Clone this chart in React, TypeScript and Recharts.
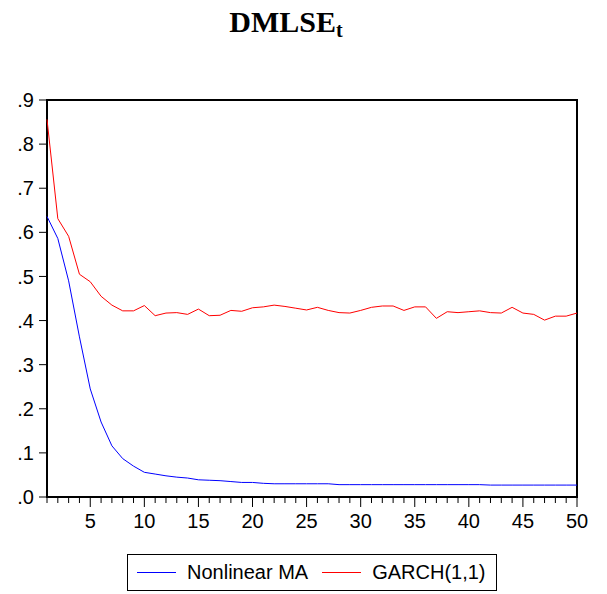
import React from 'react';
import { LineChart, Line, XAxis, YAxis, ReferenceArea } from 'recharts';

// periods 1..50
const periods = [
  1, 2, 3, 4, 5, 6, 7, 8, 9, 10, 11, 12, 13, 14, 15, 16, 17, 18, 19, 20,
  21, 22, 23, 24, 25, 26, 27, 28, 29, 30, 31, 32, 33, 34, 35, 36, 37, 38, 39, 40,
  41, 42, 43, 44, 45, 46, 47, 48, 49, 50,
];

const nonlinearMA = [
  0.636, 0.586, 0.49, 0.363, 0.245, 0.17, 0.116, 0.087, 0.07, 0.056,
  0.052, 0.048, 0.045, 0.043, 0.039, 0.038, 0.037, 0.035, 0.033, 0.033,
  0.031, 0.03, 0.03, 0.03, 0.03, 0.03, 0.03, 0.028, 0.028, 0.028,
  0.028, 0.028, 0.028, 0.028, 0.028, 0.028, 0.028, 0.028, 0.028, 0.028,
  0.028, 0.027, 0.027, 0.027, 0.027, 0.027, 0.027, 0.027, 0.027, 0.027,
];

const garch11 = [
  0.856, 0.631, 0.591, 0.505, 0.488, 0.455, 0.435, 0.422, 0.422, 0.434,
  0.411, 0.417, 0.418, 0.414, 0.426, 0.411, 0.412, 0.423, 0.421, 0.429,
  0.431, 0.435, 0.432, 0.428, 0.424, 0.43, 0.423, 0.418, 0.417, 0.423,
  0.43, 0.433, 0.433, 0.423, 0.431, 0.431, 0.405, 0.42, 0.418, 0.42,
  0.422, 0.418, 0.417, 0.43, 0.417, 0.414, 0.401, 0.41, 0.41, 0.417,
];

const yTicks = [0, 0.1, 0.2, 0.3, 0.4, 0.5, 0.6, 0.7, 0.8, 0.9];

const series = [
  { key: 'nma', name: 'Nonlinear MA', color: '#0000ff' },
  { key: 'garch', name: 'GARCH(1,1)', color: '#ff0000' },
];

const data = periods.map((p, i) => ({ t: p, nma: nonlinearMA[i], garch: garch11[i] }));

const FONT = 'Arial, "Liberation Sans", sans-serif';

// x ticks: every period gets a small tick, multiples of 5 a longer one with a label
const XTick = (props: any) => {
  const { x, y, payload } = props;
  const v = payload.value;
  const major = v % 5 === 0;
  return (
    <g>
      <line x1={x} x2={x} y1={y} y2={y + (major ? 10 : 6)} stroke="#000" strokeWidth={1} />
      {major && (
        <text x={x} y={y + 17} dy="0.71em" textAnchor="middle" fontSize={20} fontFamily={FONT} fill="#000">
          {v}
        </text>
      )}
    </g>
  );
};

const fmtY = (v: number) => (v === 0 ? '.0' : '.' + Math.round(v * 10));

export default function App() {
  return (
    <div style={{ position: 'absolute', left: 0, top: 0, width: 607, height: 594, background: '#fff' }}>
      <div
        style={{
          position: 'absolute',
          left: 0,
          top: 5,
          width: 572,
          textAlign: 'center',
          fontFamily: '"Liberation Serif", "Times New Roman", serif',
          fontWeight: 'bold',
          fontSize: 30,
          lineHeight: '34px',
        }}
      >
        DMLSE<sub style={{ fontSize: 20, verticalAlign: '-5px' }}>t</sub>
      </div>

      <LineChart width={607} height={594} data={data} margin={{ top: 100, right: 30, left: 0, bottom: 67 }}>
        <XAxis
          dataKey="t"
          type="number"
          domain={[1, 50]}
          ticks={periods}
          interval={0}
          tick={<XTick />}
          tickLine={false}
          axisLine={false}
          tickSize={0}
          tickMargin={0}
          height={30}
        />
        <YAxis
          type="number"
          domain={[0, 0.9]}
          ticks={yTicks}
          interval={0}
          tickFormatter={fmtY}
          width={47}
          tickSize={8}
          tickMargin={5}
          axisLine={false}
          tickLine={{ stroke: '#000', strokeWidth: 1 }}
          tick={{ fill: '#000', fontSize: 20, fontFamily: FONT }}
        />
        <ReferenceArea x1={1} x2={50} y1={0} y2={0.9} fill="none" stroke="#000" strokeWidth={2} ifOverflow="visible" />
        {series.map((s) => (
          <Line
            key={s.key}
            type="linear"
            dataKey={s.key}
            name={s.name}
            stroke={s.color}
            strokeWidth={1}
            dot={false}
            isAnimationActive={false}
          />
        ))}
      </LineChart>

      <div
        style={{
          position: 'absolute',
          left: 127,
          top: 554,
          width: 368,
          height: 35,
          border: '1px solid #000',
          display: 'flex',
          alignItems: 'center',
          fontFamily: FONT,
          fontSize: 20,
          whiteSpace: 'nowrap',
          overflow: 'hidden',
        }}
      >
        {series.map((s, i) => (
          <div key={s.key} style={{ display: 'flex', alignItems: 'center', marginLeft: i === 0 ? 9 : 14 }}>
            <span style={{ display: 'inline-block', width: 39, height: 0, borderTop: `1px solid ${s.color}`, marginRight: 11 }} />
            <span>{s.name}</span>
          </div>
        ))}
      </div>
    </div>
  );
}
